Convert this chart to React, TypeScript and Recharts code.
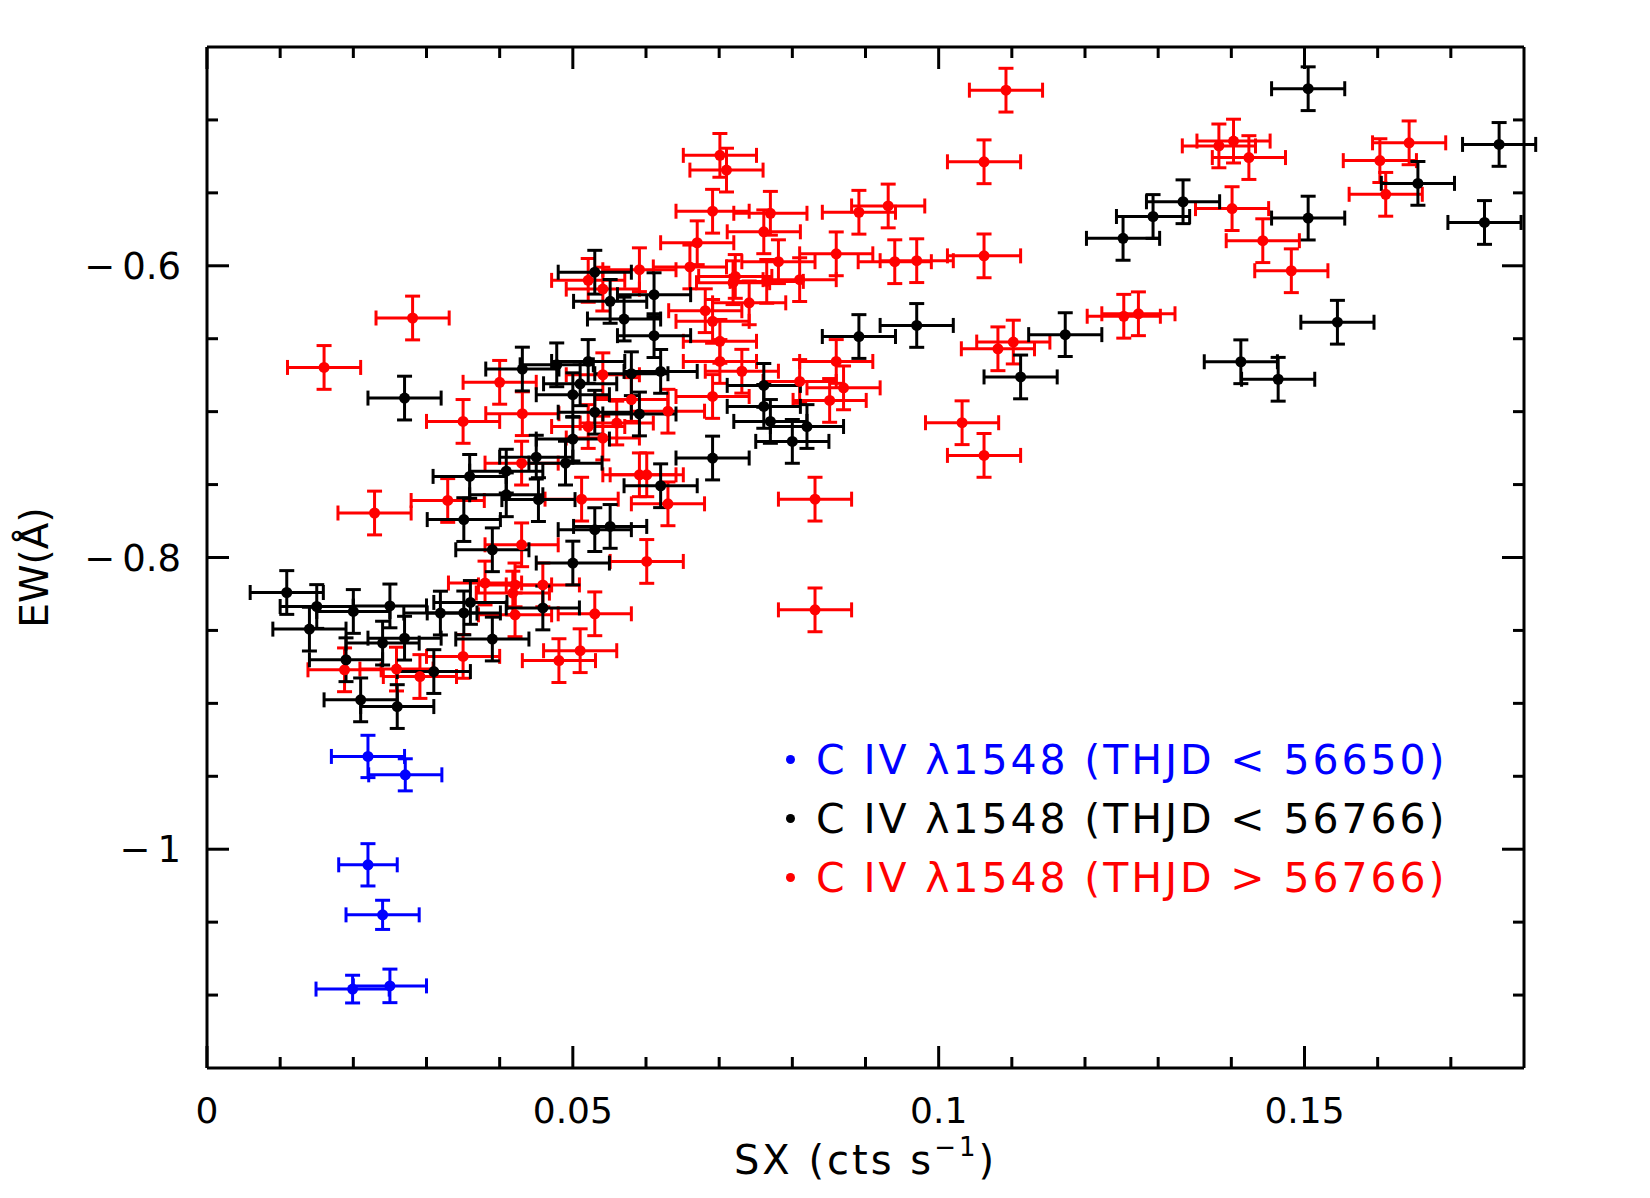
import React from 'react';
import { ScatterChart, Scatter, XAxis, YAxis, ErrorBar, Legend } from 'recharts';

const FONT = '"DejaVu Sans", "Liberation Sans", sans-serif';

// ---- axis ticks ----
const xTicks = [0, 0.01, 0.02, 0.03, 0.04, 0.05, 0.06, 0.07, 0.08, 0.09, 0.1, 0.11, 0.12, 0.13, 0.14, 0.15, 0.16, 0.17];
const xMajorTicks = [0, 0.05, 0.1, 0.15];
const xTickLabels = ['0', '0.05', '0.1', '0.15'];
const yTicks = [-1.1, -1.05, -1, -0.95, -0.9, -0.85, -0.8, -0.75, -0.7, -0.65, -0.6, -0.55, -0.5];
const yMajorTicks = [-1, -0.8, -0.6];
const yTickLabels = ['\u22121', '\u22120.8', '\u22120.6'];
const xDomain = [0, 0.18];
const yDomain = [-1.15, -0.45];

// ---- series ----
const seriesLabels = [
  'C IV \u03bb1548 (THJD < 56650)',
  'C IV \u03bb1548 (THJD < 56766)',
  'C IV \u03bb1548 (THJD > 56766)',
];
const seriesColors = ['#0000ff', '#000000', '#ff0000'];

const bluePoints = [
  [0.0220, -0.9364], [0.0271, -0.949], [0.0220, -1.0107], [0.0240, -1.045], [0.0199, -1.0959], [0.0250, -1.0937],
];
const blueXErr = [0.005, 0.005, 0.004, 0.005, 0.005, 0.005];
const blueYErr = [0.0145, 0.011, 0.0145, 0.010, 0.0095, 0.0115];

const blackPoints = [
  [0.1505, -0.4786], [0.1766, -0.5168], [0.1655, -0.5435], [0.1746, -0.5703], [0.1505, -0.5673],
  [0.1545, -0.6387], [0.1413, -0.6658], [0.1464, -0.6778], [0.1334, -0.5561], [0.1293, -0.5662],
  [0.1252, -0.5812], [0.1173, -0.6472], [0.1112, -0.6762], [0.0970, -0.6409], [0.0891, -0.6485],
  [0.0761, -0.682], [0.0761, -0.6964], [0.0770, -0.7067], [0.0820, -0.7102], [0.0800, -0.7204],
  [0.0691, -0.7318], [0.0530, -0.6044], [0.0551, -0.6244], [0.0611, -0.6198], [0.0570, -0.6365],
  [0.0611, -0.6479], [0.0431, -0.6708], [0.0478, -0.6679], [0.0521, -0.6656], [0.0510, -0.6809],
  [0.0500, -0.6884], [0.0580, -0.674], [0.0620, -0.6724], [0.0530, -0.7004], [0.0591, -0.7016],
  [0.0500, -0.7188], [0.0450, -0.7312], [0.0490, -0.7353], [0.0409, -0.7408], [0.0359, -0.7444],
  [0.0409, -0.757], [0.0453, -0.7603], [0.0351, -0.774], [0.0390, -0.7947], [0.0500, -0.8038],
  [0.0620, -0.7508], [0.0530, -0.7809], [0.0551, -0.7787], [0.0360, -0.8308], [0.0459, -0.8346],
  [0.0390, -0.8559], [0.0351, -0.838], [0.0109, -0.824], [0.0150, -0.8336], [0.0200, -0.837],
  [0.0250, -0.8332], [0.0140, -0.8491], [0.0319, -0.8381], [0.0240, -0.8587], [0.0270, -0.8553],
  [0.0190, -0.8701], [0.0310, -0.8782], [0.0210, -0.8976], [0.0260, -0.9022], [0.0270, -0.6907],
];
const blackXErr = 0.005;
const blackYErr = 0.015;

const redPoints = [
  [0.1092, -0.4796], [0.1062, -0.5287], [0.0701, -0.5243], [0.0710, -0.5344], [0.1383, -0.5178],
  [0.1403, -0.5145], [0.1424, -0.5258], [0.1643, -0.5157], [0.1603, -0.5279], [0.1611, -0.551],
  [0.1401, -0.5608], [0.1443, -0.5828], [0.1482, -0.6034], [0.1062, -0.5932], [0.0940, -0.5972],
  [0.0970, -0.5965], [0.0691, -0.5626], [0.0770, -0.564], [0.0761, -0.5767], [0.0891, -0.5633],
  [0.0931, -0.559], [0.0860, -0.5918], [0.0670, -0.5842], [0.0781, -0.5972], [0.0810, -0.6095],
  [0.0660, -0.6008], [0.0591, -0.6027], [0.0722, -0.6073], [0.0719, -0.6116], [0.0765, -0.6107],
  [0.0741, -0.6254], [0.0681, -0.6308], [0.0691, -0.6381], [0.0701, -0.6518], [0.0701, -0.6656],
  [0.0731, -0.6723], [0.0691, -0.6896], [0.0860, -0.6656], [0.0810, -0.6793], [0.0870, -0.6837],
  [0.0851, -0.6923], [0.1032, -0.7076], [0.1062, -0.73], [0.0521, -0.61], [0.0541, -0.616],
  [0.0400, -0.6799], [0.0431, -0.7014], [0.0350, -0.7067], [0.0541, -0.6747], [0.0580, -0.6917],
  [0.0630, -0.6997], [0.0521, -0.7102], [0.0560, -0.7078], [0.0541, -0.7181], [0.0430, -0.7353],
  [0.0591, -0.7433], [0.0601, -0.7433], [0.0630, -0.7632], [0.0512, -0.76], [0.0430, -0.7913],
  [0.0601, -0.8027], [0.0380, -0.8175], [0.0418, -0.8244], [0.0421, -0.8188], [0.0459, -0.8188],
  [0.0530, -0.8386], [0.0421, -0.8393], [0.0350, -0.8678], [0.0510, -0.8639], [0.0481, -0.8707],
  [0.0831, -0.76], [0.0831, -0.8359], [0.1081, -0.6569], [0.1102, -0.6523], [0.1253, -0.6346],
  [0.1273, -0.6329], [0.0281, -0.6358], [0.0160, -0.6697], [0.0229, -0.7695], [0.0329, -0.7609],
  [0.0188, -0.877], [0.0291, -0.8816], [0.0259, -0.8765],
];
const redXErr = 0.005;
const redYErr = 0.015;

const blueData = bluePoints.map((p, i) => ({ x: p[0], y: p[1], ex: blueXErr[i], ey: blueYErr[i] }));
const blackData = blackPoints.map((p) => ({ x: p[0], y: p[1], ex: blackXErr, ey: blackYErr }));
const redData = redPoints.map((p) => ({ x: p[0], y: p[1], ex: redXErr, ey: redYErr }));

// ---- styling constants ----
const MAJOR_LEN = 22;
const MINOR_LEN = 11;
const TICK_W = 3;
const FRAME = { stroke: '#000', strokeWidth: 3 };

const findIdx = (v: number, arr: number[]) => arr.findIndex((m) => Math.abs(m - v) < 1e-9);

const BottomTick = (props: any) => {
  const { x, y, payload } = props;
  const idx = findIdx(payload.value, xMajorTicks);
  const len = idx >= 0 ? MAJOR_LEN : MINOR_LEN;
  return (
    <g>
      <line x1={x} y1={y} x2={x} y2={y - len} stroke="#000" strokeWidth={TICK_W} />
      {idx >= 0 && (
        <text x={x} y={y + 42} textAnchor="middle" dominantBaseline="central" fontFamily={FONT} fontSize={36} fill="#000">
          {xTickLabels[idx]}
        </text>
      )}
    </g>
  );
};

const TopTick = (props: any) => {
  const { x, y, payload } = props;
  const idx = findIdx(payload.value, xMajorTicks);
  const len = idx >= 0 ? MAJOR_LEN : MINOR_LEN;
  return <line x1={x} y1={y} x2={x} y2={y + len} stroke="#000" strokeWidth={TICK_W} />;
};

const LeftTick = (props: any) => {
  const { x, y, payload } = props;
  const idx = findIdx(payload.value, yMajorTicks);
  const len = idx >= 0 ? MAJOR_LEN : MINOR_LEN;
  const lab = idx >= 0 ? yTickLabels[idx] : '';
  const neg = lab.startsWith('\u2212');
  return (
    <g>
      <line x1={x} y1={y} x2={x + len} y2={y} stroke="#000" strokeWidth={TICK_W} />
      {idx >= 0 && (
        <text x={x - 26} y={y} textAnchor="end" dominantBaseline="central" fontFamily={FONT} fontSize={37} fill="#000">
          {neg ? (
            <>
              <tspan>{'\u2212'}</tspan>
              <tspan dx={7}>{lab.slice(1)}</tspan>
            </>
          ) : (
            lab
          )}
        </text>
      )}
    </g>
  );
};

const RightTick = (props: any) => {
  const { x, y, payload } = props;
  const idx = findIdx(payload.value, yMajorTicks);
  const len = idx >= 0 ? MAJOR_LEN : MINOR_LEN;
  return <line x1={x} y1={y} x2={x - len} y2={y} stroke="#000" strokeWidth={TICK_W} />;
};

const XTitle = (props: any) => {
  const vb = props.viewBox || { x: 0, y: 0, width: 0 };
  const cx = vb.x + vb.width / 2;
  const cy = vb.y + 92;
  return (
    <text x={cx} y={cy} textAnchor="middle" dominantBaseline="central" fontFamily={FONT} fontSize={40} letterSpacing={3} fill="#000">
      SX (cts s<tspan dy={-13} fontSize={26}>{'\u22121'}</tspan><tspan dy={13}>)</tspan>
    </text>
  );
};

const YTitle = (props: any) => {
  const vb = props.viewBox || { x: 0, y: 0, width: 0, height: 0 };
  const cx = vb.x + vb.width - 173;
  const cy = vb.y + vb.height / 2 + 10;
  return (
    <text x={cx} y={cy} transform={`rotate(-90 ${cx} ${cy})`} textAnchor="middle" dominantBaseline="central" fontFamily={FONT} fontSize={39} fill="#000">
      EW(Å)
    </text>
  );
};

const LegendBox = () => (
  <div style={{ fontFamily: FONT, fontSize: 41 }}>
    {seriesLabels.map((lab, i) => (
      <div key={i} style={{ display: 'flex', alignItems: 'center', height: 59, color: seriesColors[i], whiteSpace: 'nowrap' }}>
        <span style={{ display: 'inline-block', width: 9, height: 9, borderRadius: '50%', background: seriesColors[i], marginRight: 21 }} />
        <span style={{ letterSpacing: 2.9 }}>{lab}</span>
      </div>
    ))}
  </div>
);

const dot = (color: string) => (p: any) => <circle cx={p.cx} cy={p.cy} r={5.5} fill={color} />;

const seriesList = [
  { key: 'blue', data: blueData, color: seriesColors[0] },
  { key: 'red', data: redData, color: seriesColors[2] },
  { key: 'black', data: blackData, color: seriesColors[1] },
];

export default function App() {
  return (
    <div style={{ width: 1634, height: 1182, background: '#fff' }}>
      <ScatterChart width={1634} height={1182} margin={{ top: 0, left: 0, right: 0, bottom: 0 }}>
        <XAxis
          xAxisId="main"
          type="number"
          dataKey="x"
          domain={xDomain}
          allowDataOverflow
          ticks={xTicks}
          interval={0}
          height={122}
          tickSize={0}
          tickMargin={0}
          tickLine={false}
          axisLine={FRAME}
          tick={<BottomTick />}
          label={<XTitle />}
        />
        <XAxis
          xAxisId="top"
          orientation="top"
          type="number"
          dataKey="x"
          domain={xDomain}
          allowDataOverflow
          ticks={xTicks}
          interval={0}
          height={39}
          tickSize={0}
          tickMargin={0}
          tickLine={false}
          axisLine={FRAME}
          tick={<TopTick />}
        />
        <YAxis
          yAxisId="main"
          type="number"
          dataKey="y"
          domain={yDomain}
          allowDataOverflow
          ticks={yTicks}
          interval={0}
          width={199}
          tickSize={0}
          tickMargin={0}
          tickLine={false}
          axisLine={FRAME}
          tick={<LeftTick />}
          label={<YTitle />}
        />
        <YAxis
          yAxisId="right"
          orientation="right"
          type="number"
          dataKey="y"
          domain={yDomain}
          allowDataOverflow
          ticks={yTicks}
          interval={0}
          width={118}
          tickSize={0}
          tickMargin={0}
          tickLine={false}
          axisLine={FRAME}
          tick={<RightTick />}
        />
        <Legend
          layout="vertical"
          align="center"
          verticalAlign="middle"
          wrapperStyle={{ left: 778, top: 722, width: 720, height: 180 }}
          content={() => <LegendBox />}
        />
        {seriesList.map((s) => (
          <Scatter
            key={s.key}
            name={s.key}
            xAxisId="main"
            yAxisId="main"
            data={s.data}
            fill={s.color}
            isAnimationActive={false}
            shape={dot(s.color)}
          >
            <ErrorBar dataKey="ex" direction="x" width={7.5} stroke={s.color} strokeWidth={3} isAnimationActive={false} />
            <ErrorBar dataKey="ey" direction="y" width={7.5} stroke={s.color} strokeWidth={3} isAnimationActive={false} />
          </Scatter>
        ))}
      </ScatterChart>
    </div>
  );
}
